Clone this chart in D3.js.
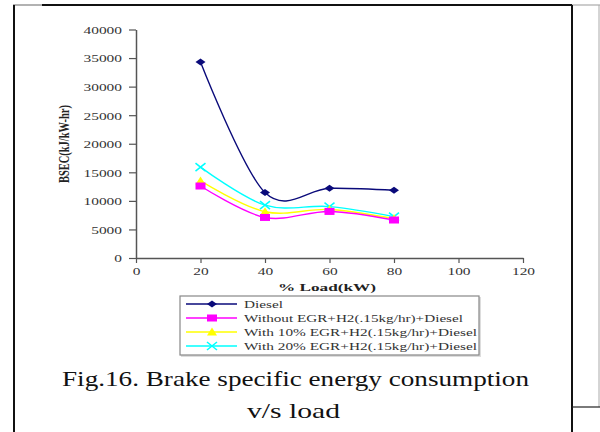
<!DOCTYPE html>
<html><head><meta charset="utf-8">
<script src="https://cdn.jsdelivr.net/npm/d3@7"></script>
<style>body{margin:0;background:#fff}svg{display:block}</style>
</head><body>
<svg id="c" width="600" height="432"></svg>
<script>
const loads = [20, 40, 60, 80];
const diesel = [34300, 11450, 12200, 11850];
const withoutEGR = [12600, 7100, 8150, 6650];
const egr10 = [13500, 8100, 8500, 6900];
const egr20 = [15900, 9250, 9000, 7250];
const seriesNames = ["Diesel", "Without EGR+H2(.15kg/hr)+Diesel", "With 10% EGR+H2(.15kg/hr)+Diesel", "With 20% EGR+H2(.15kg/hr)+Diesel"];
const xTicks = [0, 20, 40, 60, 80, 100, 120];
const yTicks = [0, 5000, 10000, 15000, 20000, 25000, 30000, 35000, 40000];
const xTitle = "% Load(kW)";
const yTitle = "BSEC(kJ/kW-hr)";
const caption1 = "Fig.16. Brake specific energy consumption";
const caption2 = "v/s load";

const svg = d3.select("#c");
const serif = "'Liberation Serif','Times New Roman',serif";

// frame
svg.append("line").attr("x1",13).attr("y1",5).attr("x2",42).attr("y2",5).attr("stroke","#999").attr("stroke-width",1.5);
svg.append("line").attr("x1",42).attr("y1",5).attr("x2",572).attr("y2",5).attr("stroke","#111").attr("stroke-width",2);
svg.append("line").attr("x1",572).attr("y1",5).attr("x2",600).attr("y2",5).attr("stroke","#999").attr("stroke-width",1);
svg.append("line").attr("x1",14).attr("y1",5).attr("x2",14).attr("y2",432).attr("stroke","#111").attr("stroke-width",2);
svg.append("line").attr("x1",572).attr("y1",5).attr("x2",572).attr("y2",432).attr("stroke","#111").attr("stroke-width",2);
svg.append("line").attr("x1",599).attr("y1",5).attr("x2",599).attr("y2",407).attr("stroke","#aaa").attr("stroke-width",1);
svg.append("line").attr("x1",572).attr("y1",407).attr("x2",600).attr("y2",407).attr("stroke","#222").attr("stroke-width",1.2);

const x = d3.scaleLinear().domain([0,120]).range([136,523]);
const y = d3.scaleLinear().domain([0,40000]).range([258,29.5]);

// axes
const gx = svg.append("g").attr("transform","translate(0,258)")
  .call(d3.axisBottom(x).tickValues(xTicks).tickSize(5).tickSizeOuter(0).tickFormat(d3.format("d")));
const gy = svg.append("g").attr("transform","translate(136,0)")
  .call(d3.axisLeft(y).tickValues(yTicks).tickSize(7).tickSizeOuter(0).tickFormat(d3.format("d")));
[gx,gy].forEach(g=>{
  g.attr("font-family",serif);
  g.select(".domain").attr("stroke","#555").attr("stroke-width",1.5);
  g.selectAll(".tick line").attr("stroke","#555").attr("stroke-width",1.2);
  g.selectAll(".tick text").attr("font-family",serif).attr("font-size",11).attr("fill","#333")
    .attr("lengthAdjust","spacingAndGlyphs")
    .attr("textLength",d=>String(d).length*7.7);
});
gx.selectAll(".tick text").attr("y",9);
gy.selectAll(".tick text").attr("x",-14).attr("dy","0.35em");

// axis titles
svg.append("text").attr("x",327).attr("y",291).attr("text-anchor","middle")
  .attr("font-family",serif).attr("font-weight","bold").attr("font-size",11).attr("fill","#222")
  .attr("textLength",98).attr("lengthAdjust","spacingAndGlyphs").text(xTitle);
svg.append("text").attr("transform","translate(68.5,144) rotate(-90)").attr("text-anchor","middle")
  .attr("font-family",serif).attr("font-weight","bold").attr("font-size",14).attr("fill","#222")
  .attr("textLength",78).attr("lengthAdjust","spacingAndGlyphs").text(yTitle);

const series = [
  {name:seriesNames[0], vals:diesel, color:"#0a0a7a", marker:"diamond"},
  {name:seriesNames[1], vals:withoutEGR, color:"#ff00ff", marker:"square"},
  {name:seriesNames[2], vals:egr10, color:"#ffff00", marker:"triangle"},
  {name:seriesNames[3], vals:egr20, color:"#00ffff", marker:"x"}
];

function drawMarker(g, type, color, cx, cy){
  if(type==="diamond"){
    g.append("path").attr("d",`M${cx-5},${cy}L${cx},${cy-3.5}L${cx+5},${cy}L${cx},${cy+3.5}Z`).attr("fill",color);
  } else if(type==="square"){
    g.append("rect").attr("x",cx-5).attr("y",cy-3.5).attr("width",10).attr("height",7).attr("fill",color);
  } else if(type==="triangle"){
    g.append("path").attr("d",`M${cx-5},${cy+3.5}L${cx},${cy-4.5}L${cx+5},${cy+3.5}Z`).attr("fill",color);
  } else {
    g.append("path").attr("d",`M${cx-5},${cy-4}L${cx+5},${cy+4}M${cx-5},${cy+4}L${cx+5},${cy-4}`).attr("stroke",color).attr("stroke-width",1.6).attr("fill","none");
  }
}

const line = d3.line().x(d=>x(d[0])).y(d=>y(d[1])).curve(d3.curveCardinal.tension(0));
const plot = svg.append("g");
[...series].reverse().forEach(s=>{
  const pts = loads.map((l,i)=>[l,s.vals[i]]);
  plot.append("path").attr("d",line(pts)).attr("fill","none").attr("stroke",s.color).attr("stroke-width",1.4);
  pts.forEach(p=>drawMarker(plot,s.marker,s.color,x(p[0]),y(p[1])));
});

// legend
const leg = svg.append("g");
leg.append("rect").attr("x",181).attr("y",297).attr("width",300).attr("height",60).attr("fill","#ddd");
leg.append("rect").attr("x",180).attr("y",296).attr("width",299).attr("height",59).attr("fill","#fff").attr("stroke","#888").attr("stroke-width",1.2);
const legWidths = [39,219,233,233];
series.forEach((s,i)=>{
  const ly = 304 + i*14;
  leg.append("line").attr("x1",186).attr("x2",237).attr("y1",ly).attr("y2",ly).attr("stroke",s.color).attr("stroke-width",1.4);
  drawMarker(leg,s.marker,s.color,212,ly);
  leg.append("text").attr("x",244).attr("y",ly+3.5).attr("font-family",serif).attr("font-size",10.5).attr("fill","#333")
    .attr("textLength",legWidths[i]).attr("lengthAdjust","spacingAndGlyphs").text(s.name);
});

// caption
svg.append("text").attr("x",295.5).attr("y",386).attr("text-anchor","middle").attr("font-family",serif)
  .attr("font-size",22).attr("fill","#111").attr("textLength",467).attr("lengthAdjust","spacingAndGlyphs").text(caption1);
svg.append("text").attr("x",293.5).attr("y",418).attr("text-anchor","middle").attr("font-family",serif)
  .attr("font-size",22).attr("fill","#111").attr("textLength",93).attr("lengthAdjust","spacingAndGlyphs").text(caption2);
</script>
</body></html>
